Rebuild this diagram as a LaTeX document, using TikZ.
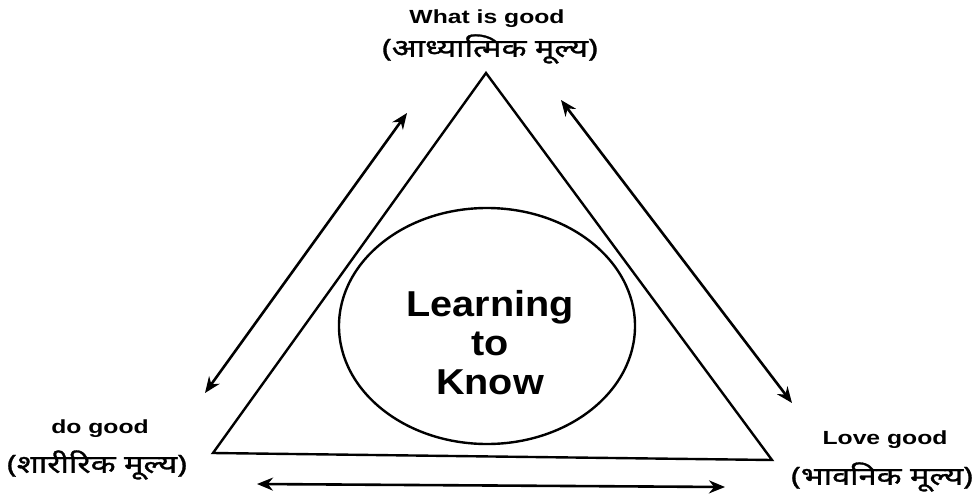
\documentclass[tikz,border=0pt]{standalone}
\usepackage{fontspec}
\setmainfont{Liberation Sans}
\newfontfamily\hindi[Script=Devanagari,FakeStretch=1.3,FakeBold=1.2]{Noto Sans}
\newfontfamily\lab[FakeStretch=1.3]{Liberation Sans}
\newfontfamily\bigf[FakeStretch=1.1]{Liberation Sans}
\usetikzlibrary{arrows.meta,shapes.geometric}
\tikzset{
  edge/.style={line width=2.4pt, line join=miter},
  dbl/.style={line width=2.6pt, {Stealth[length=16pt,width=13pt]}-{Stealth[length=16pt,width=13pt]}},
  eng/.style={inner sep=0pt, font=\lab\bfseries\fontsize{19}{21}\selectfont},
  hin/.style={inner sep=0pt, font=\hindi\fontsize{25}{28}\selectfont},
  centre/.style={inner sep=0pt, align=center, font=\bigf\bfseries\fontsize{36}{39}\selectfont}
}
\begin{document}
\begin{tikzpicture}[x=1pt,y=-1pt]
\useasboundingbox[fill=white] (0,0) rectangle (976,495);
% triangle
\coordinate (A) at (486,73);
\coordinate (B) at (213,453);
\coordinate (C) at (772,460);
\draw[edge] (A) -- (B) -- (C) -- cycle;
% ellipse
\node[draw, ellipse, line width=2.4pt, minimum width=296pt, minimum height=236pt, inner sep=0pt] (circ) at (487,326) {};
\node[centre] (ltk) at (490,343) {Learning\\to\\Know};
% arrows
\coordinate (l1) at (407,113);
\coordinate (l2) at (205,393);
\coordinate (r1) at (561,100);
\coordinate (r2) at (792,403);
\coordinate (b1) at (257,484);
\coordinate (b2) at (725,487);
\draw[dbl] (l1) -- (l2);
\draw[dbl] (r1) -- (r2);
\draw[dbl] (b1) -- (b2);
% labels
\node[eng] (wg) at (487,19) {What is good};
\node[hin] (wgh) at (490,49) {(आध्यात्मिक मूल्य)};
\node[eng] (dg) at (100,429) {do good};
\node[hin] (dgh) at (97,465) {(शारीरिक मूल्य)};
\node[eng] (lg) at (885,440) {Love good};
\node[hin] (lgh) at (882,477) {(भावनिक मूल्य)};
\end{tikzpicture}
\end{document}
